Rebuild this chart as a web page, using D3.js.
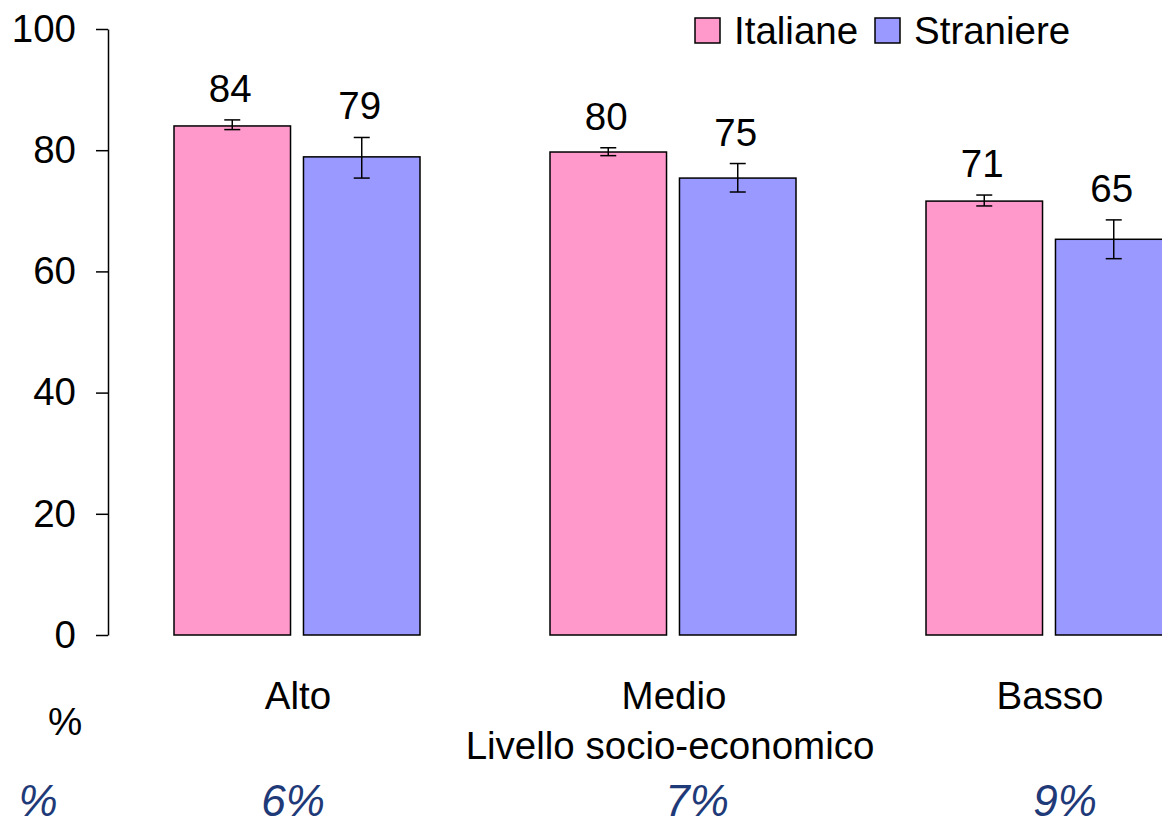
<!DOCTYPE html>
<html><head><meta charset="utf-8">
<script src="https://cdn.jsdelivr.net/npm/d3@7"></script>
<style>
html,body{margin:0;padding:0;background:#fff;}
svg{display:block;}
text{font-family:"Liberation Sans",Arial,sans-serif;fill:#000;}
</style></head>
<body>
<script>
const categories = ["Alto", "Medio", "Basso"];
const seriesNames = ["Italiane", "Straniere"];
const italiane = [84.0, 79.7, 71.6];
const straniere = [78.9, 75.4, 65.3];
const italianeLow = [83.4, 79.1, 70.8];
const italianeHigh = [85.0, 80.4, 72.6];
const straniereLow = [75.4, 73.1, 62.1];
const straniereHigh = [82.1, 77.8, 68.5];
const valueLabels = [["84", "80", "71"], ["79", "75", "65"]];
const yTicks = [0, 20, 40, 60, 80, 100];
const bottomNotes = ["6%", "7%", "9%"];
const colors = ["#FF99CC", "#9999FF"];

const W = 1162, H = 829;
const FS = 38.5;
const svg = d3.select("body").append("svg").attr("width", W).attr("height", H);

const y = d3.scaleLinear().domain([0, 100]).range([635, 29]);
const x0 = d3.scaleBand().domain(categories).range([109, 1237]);
const x1 = d3.scaleBand().domain(seriesNames).range([x0.bandwidth()/2 - 123, x0.bandwidth()/2 + 123]).paddingInner(0.1);

const series = [
  {name: "Italiane", vals: italiane, lo: italianeLow, hi: italianeHigh},
  {name: "Straniere", vals: straniere, lo: straniereLow, hi: straniereHigh}
];

// axis
const yAxis = d3.axisLeft(y).tickValues(yTicks).tickSize(12).tickSizeOuter(0).tickPadding(20);
const ag = svg.append("g").attr("transform", "translate(108,0)").call(yAxis);
ag.select(".domain").attr("stroke", "#000").attr("stroke-width", 1.5);
ag.selectAll(".tick line").attr("stroke", "#000").attr("stroke-width", 1.5);
ag.selectAll(".tick text").attr("font-size", FS).attr("font-family", "Liberation Sans, Arial, sans-serif").attr("fill", "#000");

// bars
series.forEach((s, si) => {
  const g = svg.append("g");
  g.selectAll("rect").data(categories).join("rect")
    .attr("x", (c) => x0(c) + x1(s.name))
    .attr("y", (c, i) => y(s.vals[i]))
    .attr("width", x1.bandwidth())
    .attr("height", (c, i) => y(0) - y(s.vals[i]))
    .attr("fill", colors[si]).attr("stroke", "#000").attr("stroke-width", 1.5);
  // error bars
  categories.forEach((c, i) => {
    const cx = x0(c) + x1(s.name) + x1.bandwidth()/2;
    g.append("line").attr("x1", cx).attr("x2", cx).attr("y1", y(s.lo[i])).attr("y2", y(s.hi[i])).attr("stroke", "#000").attr("stroke-width", 1.5);
    [s.lo[i], s.hi[i]].forEach(v => {
      g.append("line").attr("x1", cx - 8).attr("x2", cx + 8).attr("y1", y(v)).attr("y2", y(v)).attr("stroke", "#000").attr("stroke-width", 1.5);
    });
    g.append("text").attr("x", cx - 2).attr("y", y(s.hi[i]) - 18)
      .attr("text-anchor", "middle").attr("font-size", FS).text(valueLabels[si][i]);
  });
});

// category labels
svg.append("g").selectAll("text").data(categories).join("text")
  .attr("x", c => x0(c) + x0.bandwidth()/2 + 1)
  .attr("y", 709).attr("text-anchor", "middle").attr("font-size", FS).text(c => c);

svg.append("text").attr("x", 65).attr("y", 735).attr("text-anchor", "middle").attr("font-size", FS).text("%");
svg.append("text").attr("x", 670).attr("y", 759).attr("text-anchor", "middle").attr("font-size", FS).text("Livello socio-economico");

// bottom notes
const noteStyle = sel => sel.attr("font-family", "'Noto Sans', 'Open Sans', sans-serif").attr("font-style", "italic")
  .attr("font-size", 44).style("fill", "#1F3A78");
svg.append("text").attr("x", 38).attr("y", 816).attr("text-anchor", "middle").call(noteStyle).text("%");
const noteOffsets = [-4, 24, 16];
svg.append("g").selectAll("text").data(categories).join("text")
  .attr("x", (c, i) => x0(c) + x0.bandwidth()/2 + noteOffsets[i])
  .attr("y", 816).attr("text-anchor", "middle").call(noteStyle).text((c, i) => bottomNotes[i]);

// legend
const legX = [695, 875];
series.forEach((s, si) => {
  svg.append("rect").attr("x", legX[si]).attr("y", 18).attr("width", 25).attr("height", 25)
    .attr("fill", colors[si]).attr("stroke", "#000").attr("stroke-width", 1.5);
  svg.append("text").attr("x", legX[si] + 39).attr("y", 43.5).attr("font-size", FS).text(s.name);
});
</script>
</body></html>
